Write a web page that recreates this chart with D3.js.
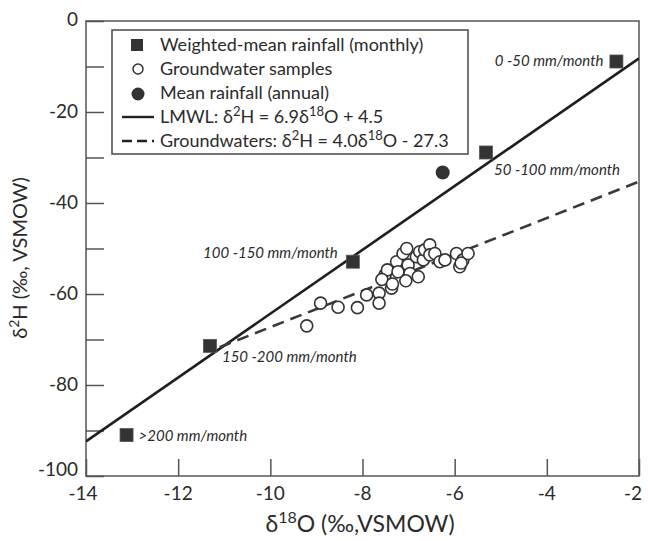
<!DOCTYPE html>
<html>
<head>
<meta charset="utf-8">
<script src="https://cdn.jsdelivr.net/npm/d3@7.9.0/dist/d3.min.js"></script>
<style>
  body { margin: 0; background: #fff; }
  svg { font-family: Lato, "Open Sans", sans-serif; }
</style>
</head>
<body>
<div id="chart"></div>
<script>
// weighted-mean monthly rainfall (d18O, d2H)
const rainfallMonthly = [
  { x: -2.49, y: -8.9, label: '0-50 mm/month' },
  { x: -5.32, y: -28.9, label: '50-100 mm/month' },
  { x: -8.21, y: -52.9, label: '100-150 mm/month' },
  { x: -11.31, y: -71.4, label: '150-200 mm/month' },
  { x: -13.12, y: -91.0, label: '>200 mm/month' },
];

const meanAnnual = [{ x: -6.26, y: -33.3 }];

const groundwater = [
  [-9.21, -67.0], [-8.91, -62.0], [-8.53, -62.9], [-8.11, -63.0],
  [-7.91, -60.2], [-7.64, -59.8], [-7.64, -62.0], [-7.37, -58.7],
  [-7.51, -55.8], [-7.46, -54.7], [-7.26, -52.9], [-7.23, -55.1],
  [-7.12, -51.1], [-7.04, -50.0], [-7.01, -53.6], [-6.97, -55.5],
  [-7.06, -57.1], [-6.79, -56.2], [-6.83, -51.8], [-6.76, -50.7],
  [-6.68, -52.5], [-6.65, -50.3], [-6.54, -49.2], [-6.54, -51.4],
  [-6.43, -51.1], [-6.32, -52.9], [-6.21, -52.5], [-5.96, -51.1],
  [-5.89, -54.0], [-5.82, -52.5], [-5.71, -51.1], [-7.58, -56.8],
  [-7.35, -57.8], [-5.86, -53.2],
];

// line endpoints
const lmwlLine = [[-14, -92.4], [-2, -8.2]];
const gwLine = [[-11.1, -71.7], [-2, -35.3]];

const xTicks = [-14, -12, -10, -8, -6, -4, -2];
const yTicks = [0, -20, -40, -60, -80, -100];
const yMinorTicks = [-10, -30, -50, -70, -90];

const width = 648;
const height = 541;
const margin = { top: 21, right: 9, bottom: 65, left: 86 };
const ink = '#2b2b2b';
const axisColor = '#555';

const svg = d3.select('#chart').append('svg')
  .attr('width', width)
  .attr('height', height);

const x = d3.scaleLinear().domain([-14, -2]).range([margin.left, width - margin.right]);
const y = d3.scaleLinear().domain([-100, 0]).range([height - margin.bottom, margin.top]);

// clip for the lines
svg.append('clipPath').attr('id', 'plot')
  .append('rect')
  .attr('x', x(-14)).attr('y', y(0))
  .attr('width', x(-2) - x(-14)).attr('height', y(-100) - y(0));

// frame
svg.append('rect')
  .attr('x', x(-14)).attr('y', y(0))
  .attr('width', x(-2) - x(-14)).attr('height', y(-100) - y(0))
  .attr('fill', 'none').attr('stroke', axisColor).attr('stroke-width', 1.5);

// inward ticks
const xAxis = d3.axisTop(x).tickValues(xTicks).tickSize(17).tickFormat('');
svg.append('g').attr('transform', `translate(0,${y(-100)})`).call(xAxis)
  .call(g => g.select('.domain').remove())
  .selectAll('line').attr('stroke', axisColor).attr('stroke-width', 1.5);

const yAxis = d3.axisRight(y).tickValues(yTicks.concat(yMinorTicks)).tickSize(18).tickFormat('');
svg.append('g').attr('transform', `translate(${x(-14)},0)`).call(yAxis)
  .call(g => g.select('.domain').remove())
  .selectAll('line').attr('stroke', axisColor).attr('stroke-width', 1.5);

// tick labels
svg.append('g').selectAll('text')
  .data(xTicks)
  .join('text')
  .attr('x', d => x(d) - (d === -14 ? 3 : 0) - (d === -2 ? 6 : 0))
  .attr('y', y(-100) + 24)
  .attr('text-anchor', 'middle')
  .attr('font-size', 19)
  .attr('fill', ink)
  .text(d => d);

svg.append('g').selectAll('text')
  .data(yTicks)
  .join('text')
  .attr('x', x(-14) - 8)
  .attr('y', d => y(d) + 6 - (d === -100 ? 6 : 0) - (d === 0 ? 1 : 0))
  .attr('text-anchor', 'end')
  .attr('font-size', 19)
  .attr('fill', ink)
  .text(d => d);

// axis titles
const xTitle = svg.append('text')
  .attr('x', 360).attr('y', 532)
  .attr('text-anchor', 'middle')
  .attr('font-size', 23)
  .attr('fill', ink);
xTitle.append('tspan').text('δ');
xTitle.append('tspan').attr('dy', -9).attr('font-size', 16).text('18');
xTitle.append('tspan').attr('dy', 9).text('O (‰,VSMOW)');

const yTitle = svg.append('text')
  .attr('transform', `translate(27,258) rotate(-90)`)
  .attr('text-anchor', 'middle')
  .attr('font-size', 20)
  .attr('fill', ink);
yTitle.append('tspan').text('δ');
yTitle.append('tspan').attr('dy', -8).attr('font-size', 14).text('2');
yTitle.append('tspan').attr('dy', 8).text('H (‰, VSMOW)');

// lines
const line = d3.line().x(d => x(d[0])).y(d => y(d[1]));
const lines = svg.append('g').attr('clip-path', 'url(#plot)');
lines.append('path').datum(lmwlLine)
  .attr('d', line).attr('fill', 'none')
  .attr('stroke', '#1f1f1f').attr('stroke-width', 2.6);
lines.append('path').datum(gwLine)
  .attr('d', line).attr('fill', 'none')
  .attr('stroke', '#3a3a3a').attr('stroke-width', 2.6)
  .attr('stroke-dasharray', '12,7');

// groundwater samples
svg.append('g').selectAll('circle')
  .data(groundwater)
  .join('circle')
  .attr('cx', d => x(d[0]))
  .attr('cy', d => y(d[1]))
  .attr('r', 6)
  .attr('fill', '#fff')
  .attr('stroke', '#333')
  .attr('stroke-width', 1.6);

// mean annual rainfall
svg.append('g').selectAll('circle')
  .data(meanAnnual)
  .join('circle')
  .attr('cx', d => x(d.x))
  .attr('cy', d => y(d.y))
  .attr('r', 7)
  .attr('fill', '#333');

// monthly rainfall squares
const sq = 13;
svg.append('g').selectAll('rect')
  .data(rainfallMonthly)
  .join('rect')
  .attr('x', d => x(d.x) - sq / 2)
  .attr('y', d => y(d.y) - sq / 2)
  .attr('width', sq).attr('height', sq)
  .attr('fill', '#333')
  .attr('stroke', '#555').attr('stroke-width', 0.8);

// labels next to the squares
const labelPos = [
  { dx: -13, dy: 5, anchor: 'end' },
  { dx: 8, dy: 23, anchor: 'start' },
  { dx: -15, dy: -4, anchor: 'end' },
  { dx: 12, dy: 16, anchor: 'start' },
  { dx: 12, dy: 6, anchor: 'start' },
];
svg.append('g').selectAll('text')
  .data(rainfallMonthly)
  .join('text')
  .attr('x', (d, i) => x(d.x) + labelPos[i].dx)
  .attr('y', (d, i) => y(d.y) + labelPos[i].dy)
  .attr('text-anchor', (d, i) => labelPos[i].anchor)
  .attr('font-size', 15)
  .attr('font-style', 'italic')
  .attr('fill', ink)
  .text(d => d.label.replace('-', ' -'));

// legend
const legend = svg.append('g');
legend.append('rect')
  .attr('x', 112).attr('y', 30)
  .attr('width', 356).attr('height', 124)
  .attr('fill', '#fff')
  .attr('stroke', '#666').attr('stroke-width', 1.8);

const legendRows = [
  { type: 'square', parts: [['Weighted-mean rainfall (monthly)']] },
  { type: 'open', parts: [['Groundwater samples']] },
  { type: 'dot', parts: [['Mean rainfall (annual)']] },
  { type: 'solid', parts: [['LMWL: δ'], ['2', 1], ['H = 6.9δ'], ['18', 1], ['O + 4.5']] },
  { type: 'dash', parts: [['Groundwaters: δ'], ['2', 1], ['H = 4.0δ'], ['18', 1], ['O - 27.3']] },
];

legendRows.forEach((row, i) => {
  const cy = 45 + i * 24;
  const g = legend.append('g');
  if (row.type === 'square') {
    g.append('rect').attr('x', 131).attr('y', cy - 6).attr('width', 12).attr('height', 12).attr('fill', '#333');
  } else if (row.type === 'open') {
    g.append('circle').attr('cx', 138).attr('cy', cy).attr('r', 5).attr('fill', '#fff').attr('stroke', '#333').attr('stroke-width', 1.5);
  } else if (row.type === 'dot') {
    g.append('circle').attr('cx', 138).attr('cy', cy + 1).attr('r', 6.5).attr('fill', '#333');
  } else {
    g.append('line').attr('x1', 122).attr('x2', 154).attr('y1', cy).attr('y2', cy)
      .attr('stroke', '#222').attr('stroke-width', 2.4)
      .attr('stroke-dasharray', row.type === 'dash' ? '10,5' : null);
  }
  const t = g.append('text')
    .attr('x', 160).attr('y', cy + 6)
    .attr('font-size', 18)
    .attr('fill', ink);
  let raised = false;
  row.parts.forEach(([s, sup]) => {
    const ts = t.append('tspan').text(s);
    if (sup && !raised) { ts.attr('dy', -7).attr('font-size', 13); raised = true; }
    else if (!sup && raised) { ts.attr('dy', 7); raised = false; }
  });
});
</script>
</body>
</html>
